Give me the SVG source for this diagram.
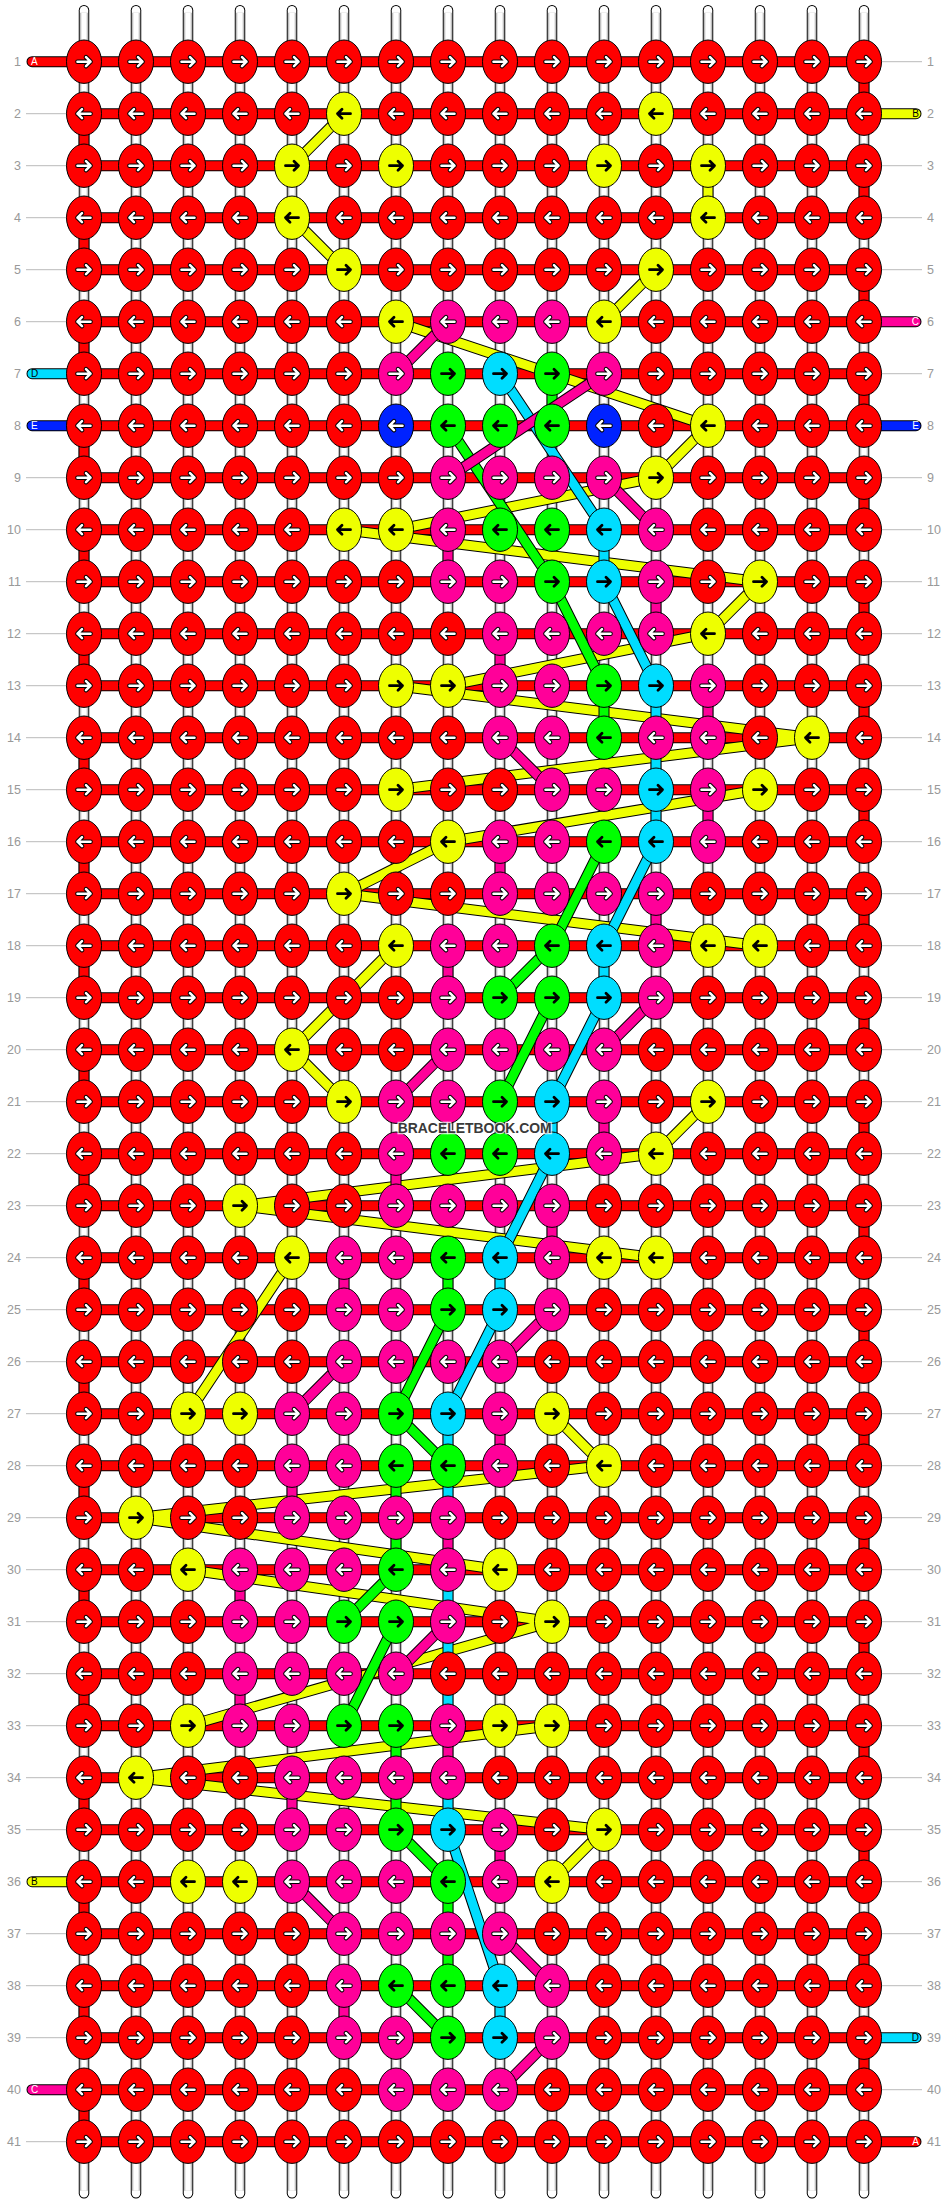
<svg xmlns="http://www.w3.org/2000/svg" xmlns:xlink="http://www.w3.org/1999/xlink" width="948" height="2204" viewBox="0 0 948 2204">
<defs>
<style>
.o{fill:none;stroke:#000;stroke-width:11}
.f{fill:none;stroke-width:9}
.rc{stroke-linecap:round}
.k{stroke:#000;stroke-width:1}
.ao{fill:none;stroke:#000;stroke-width:4.6;stroke-linecap:round;stroke-linejoin:round}
.aw{fill:none;stroke:#fff;stroke-width:2.6;stroke-linecap:round;stroke-linejoin:round}
.ab{fill:none;stroke:#000;stroke-width:2.8;stroke-linecap:round;stroke-linejoin:round}
.n{font-family:"Liberation Sans",Arial,sans-serif;font-size:12.5px;fill:#999}
.lt{font-family:"Liberation Sans",Arial,sans-serif;font-size:10px}
.gl{fill:none;stroke:#bbb;stroke-width:1}
</style>
<path id="pr" d="M-6.5,0H6.5M2,-4.5L6.5,0L2,4.5"/>
<path id="pl" d="M6.5,0H-6.5M-2,-4.5L-6.5,0L-2,4.5"/>
<g id="Rr"><ellipse class="k" rx="17.5" ry="21.7" fill="#ff0000"/><use href="#pr" class="ao"/><use href="#pr" class="aw"/></g>
<g id="Rl"><ellipse class="k" rx="17.5" ry="21.7" fill="#ff0000"/><use href="#pl" class="ao"/><use href="#pl" class="aw"/></g>
<g id="Pr"><ellipse class="k" rx="17.5" ry="21.7" fill="#ff0099"/><use href="#pr" class="ao"/><use href="#pr" class="aw"/></g>
<g id="Pl"><ellipse class="k" rx="17.5" ry="21.7" fill="#ff0099"/><use href="#pl" class="ao"/><use href="#pl" class="aw"/></g>
<g id="Bl"><ellipse class="k" rx="17.5" ry="21.7" fill="#0022ff"/><use href="#pl" class="ao"/><use href="#pl" class="aw"/></g>
<g id="Yr"><ellipse class="k" rx="17.5" ry="21.7" fill="#eeff00"/><use href="#pr" class="ab"/></g>
<g id="Yl"><ellipse class="k" rx="17.5" ry="21.7" fill="#eeff00"/><use href="#pl" class="ab"/></g>
<g id="Gr"><ellipse class="k" rx="17.5" ry="21.7" fill="#00ff00"/><use href="#pr" class="ab"/></g>
<g id="Gl"><ellipse class="k" rx="17.5" ry="21.7" fill="#00ff00"/><use href="#pl" class="ab"/></g>
<g id="Cr"><ellipse class="k" rx="17.5" ry="21.7" fill="#00ddff"/><use href="#pr" class="ab"/></g>
<g id="Cl"><ellipse class="k" rx="17.5" ry="21.7" fill="#00ddff"/><use href="#pl" class="ab"/></g>
<g id="w"><line y1="10.5" y2="2193.5" stroke="#000" stroke-width="10.5" stroke-linecap="round"/><line y1="10.5" y2="2193.5" stroke="#fff" stroke-width="8.5" stroke-linecap="round"/><line y1="13" y2="2191" stroke="#aaa" stroke-width="7.5"/><line y1="13" y2="2191" stroke="#fff" stroke-width="5.5"/></g>
<path id="dR" d="M84,62H864M84,114H864M84,166H864M84,218H864M84,270H864M84,322H864M84,374H864M84,426H864M84,478H864M84,530H864M84,582H864M84,634H864M84,686H864M84,738H864M84,790H864M84,842H864M84,894H864M84,946H864M84,998H864M84,1050H864M84,1102H864M84,1154H864M84,1206H864M84,1258H864M84,1310H864M84,1362H864M84,1414H864M84,1466H864M84,1518H864M84,1570H864M84,1622H864M84,1674H864M84,1726H864M84,1778H864M84,1830H864M84,1882H864M84,1934H864M84,1986H864M84,2038H864M84,2090H864M84,2142H864
M84,114V166M84,218V270M84,322V374M84,426V478M84,530V582M84,634V686M84,738V790M84,842V894M84,946V998M84,1050V1102M84,1154V1206M84,1258V1310M84,1362V1414M84,1466V1518M84,1570V1622M84,1674V1726M84,1778V1830M84,1882V1934M84,1986V2038M84,2090V2142
M864,62V114M864,166V218M864,270V322M864,374V426M864,478V530M864,582V634M864,686V738M864,790V842M864,894V946M864,998V1050M864,1102V1154M864,1206V1258M864,1310V1362M864,1414V1466M864,1518V1570M864,1622V1674M864,1726V1778M864,1830V1882M864,1934V1986M864,2038V2090
M32,62H84M864,2142H916"/>
<path id="dY" d="M292,166L344,114M708,166V218M292,218L344,270M656,270L604,322M396,322L708,426M708,426L656,478M656,478L396,530M344,530L760,582M760,582L708,634M708,634L448,686M396,686L812,738M812,738L396,790M760,790L448,842M448,842L344,894M344,894L760,946M396,946L292,1050M292,1050L344,1102M708,1102L656,1154M656,1154L240,1206M240,1206L656,1258M292,1258L188,1414M552,1414L604,1466M604,1466L136,1518M136,1518L500,1570M188,1570L552,1622M552,1622L188,1726M552,1726L136,1778M136,1778L604,1830M604,1830L552,1882"/>
<path id="dG" d="M552,374V426M448,426L552,582M552,582L604,686M604,686V738M604,842L552,946M552,946L500,998M552,998L500,1102M448,1258V1310M448,1310L396,1414M396,1414L448,1466M396,1466V1570M396,1570L344,1622M396,1622L344,1726M396,1726V1830M396,1830L448,1882M448,1882V1986M396,1986L448,2038"/>
<path id="dC" d="M500,374L604,530M604,530V582M604,582L656,686M656,686V842M656,842L604,946M604,946V998M604,998L552,1102M552,1102V1154M552,1154L500,1258M500,1258V1310M500,1310L448,1414M448,1414V1518M448,1570V1726M448,1778V1830M448,1830L500,1986M500,1986V2038"/>
<path id="dP" d="M448,322L396,374M604,374L448,478M604,478L656,530M500,738L552,790M656,998L604,1050M448,1050L396,1102M552,1310L500,1362M344,1362L292,1414M448,1622L396,1674M292,1882L344,1934M500,1934L552,1986M552,2038L500,2090M448,530V582M656,582V634M500,634V686M708,686V738M708,790V842M500,842V894M656,894V946M448,946V998M604,1102V1154M396,1154V1206M552,1206V1258M344,1258V1310M500,1414V1466M292,1466V1518M448,1518V1570M240,1570V1622M240,1674V1726M448,1726V1778M292,1778V1830M500,1830V1882M344,1986V2038"/>
<path id="lY" d="M864,114H916M32,1882H84"/>
<path id="lP" d="M864,322H916M32,2090H84"/>
<path id="lC" d="M32,374H84M864,2038H916"/>
<path id="lB" d="M32,426H84M864,426H916"/>
</defs>
<rect width="948" height="2204" fill="#fff"/>
<g transform="translate(0,-0.3)">
<g id="rowlines">
<path class="gl" d="M26,114H84M26,166H84M26,218H84M26,270H84M26,322H84M26,478H84M26,530H84M26,582H84M26,634H84M26,686H84M26,738H84M26,790H84M26,842H84M26,894H84M26,946H84M26,998H84M26,1050H84M26,1102H84M26,1154H84M26,1206H84M26,1258H84M26,1310H84M26,1362H84M26,1414H84M26,1466H84M26,1518H84M26,1570H84M26,1622H84M26,1674H84M26,1726H84M26,1778H84M26,1830H84M26,1934H84M26,1986H84M26,2038H84M26,2142H84"/>
<path class="gl" d="M864,62H922M864,166H922M864,218H922M864,270H922M864,374H922M864,478H922M864,530H922M864,582H922M864,634H922M864,686H922M864,738H922M864,790H922M864,842H922M864,894H922M864,946H922M864,998H922M864,1050H922M864,1102H922M864,1154H922M864,1206H922M864,1258H922M864,1310H922M864,1362H922M864,1414H922M864,1466H922M864,1518H922M864,1570H922M864,1622H922M864,1674H922M864,1726H922M864,1778H922M864,1830H922M864,1882H922M864,1934H922M864,1986H922M864,2090H922"/>
</g>
<g id="connectors">
<use href="#w" x="84"/><use href="#w" x="136"/><use href="#w" x="188"/><use href="#w" x="240"/><use href="#w" x="292"/><use href="#w" x="344"/><use href="#w" x="396"/><use href="#w" x="448"/><use href="#w" x="500"/><use href="#w" x="552"/><use href="#w" x="604"/><use href="#w" x="656"/><use href="#w" x="708"/><use href="#w" x="760"/><use href="#w" x="812"/><use href="#w" x="864"/>
<use href="#dR" class="o rc"/><use href="#dR" class="f rc" stroke="#ff0000"/>
<use href="#lY" class="o rc"/><use href="#lY" class="f rc" stroke="#eeff00"/>
<use href="#lP" class="o rc"/><use href="#lP" class="f rc" stroke="#ff0099"/>
<use href="#lC" class="o rc"/><use href="#lC" class="f rc" stroke="#00ddff"/>
<use href="#lB" class="o rc"/><use href="#lB" class="f rc" stroke="#0022ff"/>
<use href="#dY" class="o"/><use href="#dY" class="f" stroke="#eeff00"/>
<use href="#dG" class="o"/><use href="#dG" class="f" stroke="#00ff00"/>
<use href="#dC" class="o"/><use href="#dC" class="f" stroke="#00ddff"/>
<use href="#dP" class="o"/><use href="#dP" class="f" stroke="#ff0099"/>
</g>
<g id="knots">
<g id="row1" transform="translate(0,62)"><g id="k1-1"><use href="#Rr" x="84"/></g><g id="k1-2"><use href="#Rr" x="136"/></g><g id="k1-3"><use href="#Rr" x="188"/></g><g id="k1-4"><use href="#Rr" x="240"/></g><g id="k1-5"><use href="#Rr" x="292"/></g><g id="k1-6"><use href="#Rr" x="344"/></g><g id="k1-7"><use href="#Rr" x="396"/></g><g id="k1-8"><use href="#Rr" x="448"/></g><g id="k1-9"><use href="#Rr" x="500"/></g><g id="k1-10"><use href="#Rr" x="552"/></g><g id="k1-11"><use href="#Rr" x="604"/></g><g id="k1-12"><use href="#Rr" x="656"/></g><g id="k1-13"><use href="#Rr" x="708"/></g><g id="k1-14"><use href="#Rr" x="760"/></g><g id="k1-15"><use href="#Rr" x="812"/></g><g id="k1-16"><use href="#Rr" x="864"/></g></g>
<g id="row2" transform="translate(0,114)"><g id="k2-1"><use href="#Rl" x="84"/></g><g id="k2-2"><use href="#Rl" x="136"/></g><g id="k2-3"><use href="#Rl" x="188"/></g><g id="k2-4"><use href="#Rl" x="240"/></g><g id="k2-5"><use href="#Rl" x="292"/></g><g id="k2-6"><use href="#Yl" x="344"/></g><g id="k2-7"><use href="#Rl" x="396"/></g><g id="k2-8"><use href="#Rl" x="448"/></g><g id="k2-9"><use href="#Rl" x="500"/></g><g id="k2-10"><use href="#Rl" x="552"/></g><g id="k2-11"><use href="#Rl" x="604"/></g><g id="k2-12"><use href="#Yl" x="656"/></g><g id="k2-13"><use href="#Rl" x="708"/></g><g id="k2-14"><use href="#Rl" x="760"/></g><g id="k2-15"><use href="#Rl" x="812"/></g><g id="k2-16"><use href="#Rl" x="864"/></g></g>
<g id="row3" transform="translate(0,166)"><g id="k3-1"><use href="#Rr" x="84"/></g><g id="k3-2"><use href="#Rr" x="136"/></g><g id="k3-3"><use href="#Rr" x="188"/></g><g id="k3-4"><use href="#Rr" x="240"/></g><g id="k3-5"><use href="#Yr" x="292"/></g><g id="k3-6"><use href="#Rr" x="344"/></g><g id="k3-7"><use href="#Yr" x="396"/></g><g id="k3-8"><use href="#Rr" x="448"/></g><g id="k3-9"><use href="#Rr" x="500"/></g><g id="k3-10"><use href="#Rr" x="552"/></g><g id="k3-11"><use href="#Yr" x="604"/></g><g id="k3-12"><use href="#Rr" x="656"/></g><g id="k3-13"><use href="#Yr" x="708"/></g><g id="k3-14"><use href="#Rr" x="760"/></g><g id="k3-15"><use href="#Rr" x="812"/></g><g id="k3-16"><use href="#Rr" x="864"/></g></g>
<g id="row4" transform="translate(0,218)"><g id="k4-1"><use href="#Rl" x="84"/></g><g id="k4-2"><use href="#Rl" x="136"/></g><g id="k4-3"><use href="#Rl" x="188"/></g><g id="k4-4"><use href="#Rl" x="240"/></g><g id="k4-5"><use href="#Yl" x="292"/></g><g id="k4-6"><use href="#Rl" x="344"/></g><g id="k4-7"><use href="#Rl" x="396"/></g><g id="k4-8"><use href="#Rl" x="448"/></g><g id="k4-9"><use href="#Rl" x="500"/></g><g id="k4-10"><use href="#Rl" x="552"/></g><g id="k4-11"><use href="#Rl" x="604"/></g><g id="k4-12"><use href="#Rl" x="656"/></g><g id="k4-13"><use href="#Yl" x="708"/></g><g id="k4-14"><use href="#Rl" x="760"/></g><g id="k4-15"><use href="#Rl" x="812"/></g><g id="k4-16"><use href="#Rl" x="864"/></g></g>
<g id="row5" transform="translate(0,270)"><g id="k5-1"><use href="#Rr" x="84"/></g><g id="k5-2"><use href="#Rr" x="136"/></g><g id="k5-3"><use href="#Rr" x="188"/></g><g id="k5-4"><use href="#Rr" x="240"/></g><g id="k5-5"><use href="#Rr" x="292"/></g><g id="k5-6"><use href="#Yr" x="344"/></g><g id="k5-7"><use href="#Rr" x="396"/></g><g id="k5-8"><use href="#Rr" x="448"/></g><g id="k5-9"><use href="#Rr" x="500"/></g><g id="k5-10"><use href="#Rr" x="552"/></g><g id="k5-11"><use href="#Rr" x="604"/></g><g id="k5-12"><use href="#Yr" x="656"/></g><g id="k5-13"><use href="#Rr" x="708"/></g><g id="k5-14"><use href="#Rr" x="760"/></g><g id="k5-15"><use href="#Rr" x="812"/></g><g id="k5-16"><use href="#Rr" x="864"/></g></g>
<g id="row6" transform="translate(0,322)"><g id="k6-1"><use href="#Rl" x="84"/></g><g id="k6-2"><use href="#Rl" x="136"/></g><g id="k6-3"><use href="#Rl" x="188"/></g><g id="k6-4"><use href="#Rl" x="240"/></g><g id="k6-5"><use href="#Rl" x="292"/></g><g id="k6-6"><use href="#Rl" x="344"/></g><g id="k6-7"><use href="#Yl" x="396"/></g><g id="k6-8"><use href="#Pl" x="448"/></g><g id="k6-9"><use href="#Pl" x="500"/></g><g id="k6-10"><use href="#Pl" x="552"/></g><g id="k6-11"><use href="#Yl" x="604"/></g><g id="k6-12"><use href="#Rl" x="656"/></g><g id="k6-13"><use href="#Rl" x="708"/></g><g id="k6-14"><use href="#Rl" x="760"/></g><g id="k6-15"><use href="#Rl" x="812"/></g><g id="k6-16"><use href="#Rl" x="864"/></g></g>
<g id="row7" transform="translate(0,374)"><g id="k7-1"><use href="#Rr" x="84"/></g><g id="k7-2"><use href="#Rr" x="136"/></g><g id="k7-3"><use href="#Rr" x="188"/></g><g id="k7-4"><use href="#Rr" x="240"/></g><g id="k7-5"><use href="#Rr" x="292"/></g><g id="k7-6"><use href="#Rr" x="344"/></g><g id="k7-7"><use href="#Pr" x="396"/></g><g id="k7-8"><use href="#Gr" x="448"/></g><g id="k7-9"><use href="#Cr" x="500"/></g><g id="k7-10"><use href="#Gr" x="552"/></g><g id="k7-11"><use href="#Pr" x="604"/></g><g id="k7-12"><use href="#Rr" x="656"/></g><g id="k7-13"><use href="#Rr" x="708"/></g><g id="k7-14"><use href="#Rr" x="760"/></g><g id="k7-15"><use href="#Rr" x="812"/></g><g id="k7-16"><use href="#Rr" x="864"/></g></g>
<g id="row8" transform="translate(0,426)"><g id="k8-1"><use href="#Rl" x="84"/></g><g id="k8-2"><use href="#Rl" x="136"/></g><g id="k8-3"><use href="#Rl" x="188"/></g><g id="k8-4"><use href="#Rl" x="240"/></g><g id="k8-5"><use href="#Rl" x="292"/></g><g id="k8-6"><use href="#Rl" x="344"/></g><g id="k8-7"><use href="#Bl" x="396"/></g><g id="k8-8"><use href="#Gl" x="448"/></g><g id="k8-9"><use href="#Gl" x="500"/></g><g id="k8-10"><use href="#Gl" x="552"/></g><g id="k8-11"><use href="#Bl" x="604"/></g><g id="k8-12"><use href="#Rl" x="656"/></g><g id="k8-13"><use href="#Yl" x="708"/></g><g id="k8-14"><use href="#Rl" x="760"/></g><g id="k8-15"><use href="#Rl" x="812"/></g><g id="k8-16"><use href="#Rl" x="864"/></g></g>
<g id="row9" transform="translate(0,478)"><g id="k9-1"><use href="#Rr" x="84"/></g><g id="k9-2"><use href="#Rr" x="136"/></g><g id="k9-3"><use href="#Rr" x="188"/></g><g id="k9-4"><use href="#Rr" x="240"/></g><g id="k9-5"><use href="#Rr" x="292"/></g><g id="k9-6"><use href="#Rr" x="344"/></g><g id="k9-7"><use href="#Rr" x="396"/></g><g id="k9-8"><use href="#Pr" x="448"/></g><g id="k9-9"><use href="#Pr" x="500"/></g><g id="k9-10"><use href="#Pr" x="552"/></g><g id="k9-11"><use href="#Pr" x="604"/></g><g id="k9-12"><use href="#Yr" x="656"/></g><g id="k9-13"><use href="#Rr" x="708"/></g><g id="k9-14"><use href="#Rr" x="760"/></g><g id="k9-15"><use href="#Rr" x="812"/></g><g id="k9-16"><use href="#Rr" x="864"/></g></g>
<g id="row10" transform="translate(0,530)"><g id="k10-1"><use href="#Rl" x="84"/></g><g id="k10-2"><use href="#Rl" x="136"/></g><g id="k10-3"><use href="#Rl" x="188"/></g><g id="k10-4"><use href="#Rl" x="240"/></g><g id="k10-5"><use href="#Rl" x="292"/></g><g id="k10-6"><use href="#Yl" x="344"/></g><g id="k10-7"><use href="#Yl" x="396"/></g><g id="k10-8"><use href="#Pl" x="448"/></g><g id="k10-9"><use href="#Gl" x="500"/></g><g id="k10-10"><use href="#Gl" x="552"/></g><g id="k10-11"><use href="#Cl" x="604"/></g><g id="k10-12"><use href="#Pl" x="656"/></g><g id="k10-13"><use href="#Rl" x="708"/></g><g id="k10-14"><use href="#Rl" x="760"/></g><g id="k10-15"><use href="#Rl" x="812"/></g><g id="k10-16"><use href="#Rl" x="864"/></g></g>
<g id="row11" transform="translate(0,582)"><g id="k11-1"><use href="#Rr" x="84"/></g><g id="k11-2"><use href="#Rr" x="136"/></g><g id="k11-3"><use href="#Rr" x="188"/></g><g id="k11-4"><use href="#Rr" x="240"/></g><g id="k11-5"><use href="#Rr" x="292"/></g><g id="k11-6"><use href="#Rr" x="344"/></g><g id="k11-7"><use href="#Rr" x="396"/></g><g id="k11-8"><use href="#Pr" x="448"/></g><g id="k11-9"><use href="#Pr" x="500"/></g><g id="k11-10"><use href="#Gr" x="552"/></g><g id="k11-11"><use href="#Cr" x="604"/></g><g id="k11-12"><use href="#Pr" x="656"/></g><g id="k11-13"><use href="#Rr" x="708"/></g><g id="k11-14"><use href="#Yr" x="760"/></g><g id="k11-15"><use href="#Rr" x="812"/></g><g id="k11-16"><use href="#Rr" x="864"/></g></g>
<g id="row12" transform="translate(0,634)"><g id="k12-1"><use href="#Rl" x="84"/></g><g id="k12-2"><use href="#Rl" x="136"/></g><g id="k12-3"><use href="#Rl" x="188"/></g><g id="k12-4"><use href="#Rl" x="240"/></g><g id="k12-5"><use href="#Rl" x="292"/></g><g id="k12-6"><use href="#Rl" x="344"/></g><g id="k12-7"><use href="#Rl" x="396"/></g><g id="k12-8"><use href="#Rl" x="448"/></g><g id="k12-9"><use href="#Pl" x="500"/></g><g id="k12-10"><use href="#Pl" x="552"/></g><g id="k12-11"><use href="#Pl" x="604"/></g><g id="k12-12"><use href="#Pl" x="656"/></g><g id="k12-13"><use href="#Yl" x="708"/></g><g id="k12-14"><use href="#Rl" x="760"/></g><g id="k12-15"><use href="#Rl" x="812"/></g><g id="k12-16"><use href="#Rl" x="864"/></g></g>
<g id="row13" transform="translate(0,686)"><g id="k13-1"><use href="#Rr" x="84"/></g><g id="k13-2"><use href="#Rr" x="136"/></g><g id="k13-3"><use href="#Rr" x="188"/></g><g id="k13-4"><use href="#Rr" x="240"/></g><g id="k13-5"><use href="#Rr" x="292"/></g><g id="k13-6"><use href="#Rr" x="344"/></g><g id="k13-7"><use href="#Yr" x="396"/></g><g id="k13-8"><use href="#Yr" x="448"/></g><g id="k13-9"><use href="#Pr" x="500"/></g><g id="k13-10"><use href="#Pr" x="552"/></g><g id="k13-11"><use href="#Gr" x="604"/></g><g id="k13-12"><use href="#Cr" x="656"/></g><g id="k13-13"><use href="#Pr" x="708"/></g><g id="k13-14"><use href="#Rr" x="760"/></g><g id="k13-15"><use href="#Rr" x="812"/></g><g id="k13-16"><use href="#Rr" x="864"/></g></g>
<g id="row14" transform="translate(0,738)"><g id="k14-1"><use href="#Rl" x="84"/></g><g id="k14-2"><use href="#Rl" x="136"/></g><g id="k14-3"><use href="#Rl" x="188"/></g><g id="k14-4"><use href="#Rl" x="240"/></g><g id="k14-5"><use href="#Rl" x="292"/></g><g id="k14-6"><use href="#Rl" x="344"/></g><g id="k14-7"><use href="#Rl" x="396"/></g><g id="k14-8"><use href="#Rl" x="448"/></g><g id="k14-9"><use href="#Pl" x="500"/></g><g id="k14-10"><use href="#Pl" x="552"/></g><g id="k14-11"><use href="#Gl" x="604"/></g><g id="k14-12"><use href="#Pl" x="656"/></g><g id="k14-13"><use href="#Pl" x="708"/></g><g id="k14-14"><use href="#Rl" x="760"/></g><g id="k14-15"><use href="#Yl" x="812"/></g><g id="k14-16"><use href="#Rl" x="864"/></g></g>
<g id="row15" transform="translate(0,790)"><g id="k15-1"><use href="#Rr" x="84"/></g><g id="k15-2"><use href="#Rr" x="136"/></g><g id="k15-3"><use href="#Rr" x="188"/></g><g id="k15-4"><use href="#Rr" x="240"/></g><g id="k15-5"><use href="#Rr" x="292"/></g><g id="k15-6"><use href="#Rr" x="344"/></g><g id="k15-7"><use href="#Yr" x="396"/></g><g id="k15-8"><use href="#Rr" x="448"/></g><g id="k15-9"><use href="#Rr" x="500"/></g><g id="k15-10"><use href="#Pr" x="552"/></g><g id="k15-11"><use href="#Pr" x="604"/></g><g id="k15-12"><use href="#Cr" x="656"/></g><g id="k15-13"><use href="#Pr" x="708"/></g><g id="k15-14"><use href="#Yr" x="760"/></g><g id="k15-15"><use href="#Rr" x="812"/></g><g id="k15-16"><use href="#Rr" x="864"/></g></g>
<g id="row16" transform="translate(0,842)"><g id="k16-1"><use href="#Rl" x="84"/></g><g id="k16-2"><use href="#Rl" x="136"/></g><g id="k16-3"><use href="#Rl" x="188"/></g><g id="k16-4"><use href="#Rl" x="240"/></g><g id="k16-5"><use href="#Rl" x="292"/></g><g id="k16-6"><use href="#Rl" x="344"/></g><g id="k16-7"><use href="#Rl" x="396"/></g><g id="k16-8"><use href="#Yl" x="448"/></g><g id="k16-9"><use href="#Pl" x="500"/></g><g id="k16-10"><use href="#Pl" x="552"/></g><g id="k16-11"><use href="#Gl" x="604"/></g><g id="k16-12"><use href="#Cl" x="656"/></g><g id="k16-13"><use href="#Pl" x="708"/></g><g id="k16-14"><use href="#Rl" x="760"/></g><g id="k16-15"><use href="#Rl" x="812"/></g><g id="k16-16"><use href="#Rl" x="864"/></g></g>
<g id="row17" transform="translate(0,894)"><g id="k17-1"><use href="#Rr" x="84"/></g><g id="k17-2"><use href="#Rr" x="136"/></g><g id="k17-3"><use href="#Rr" x="188"/></g><g id="k17-4"><use href="#Rr" x="240"/></g><g id="k17-5"><use href="#Rr" x="292"/></g><g id="k17-6"><use href="#Yr" x="344"/></g><g id="k17-7"><use href="#Rr" x="396"/></g><g id="k17-8"><use href="#Rr" x="448"/></g><g id="k17-9"><use href="#Pr" x="500"/></g><g id="k17-10"><use href="#Pr" x="552"/></g><g id="k17-11"><use href="#Pr" x="604"/></g><g id="k17-12"><use href="#Pr" x="656"/></g><g id="k17-13"><use href="#Rr" x="708"/></g><g id="k17-14"><use href="#Rr" x="760"/></g><g id="k17-15"><use href="#Rr" x="812"/></g><g id="k17-16"><use href="#Rr" x="864"/></g></g>
<g id="row18" transform="translate(0,946)"><g id="k18-1"><use href="#Rl" x="84"/></g><g id="k18-2"><use href="#Rl" x="136"/></g><g id="k18-3"><use href="#Rl" x="188"/></g><g id="k18-4"><use href="#Rl" x="240"/></g><g id="k18-5"><use href="#Rl" x="292"/></g><g id="k18-6"><use href="#Rl" x="344"/></g><g id="k18-7"><use href="#Yl" x="396"/></g><g id="k18-8"><use href="#Pl" x="448"/></g><g id="k18-9"><use href="#Pl" x="500"/></g><g id="k18-10"><use href="#Gl" x="552"/></g><g id="k18-11"><use href="#Cl" x="604"/></g><g id="k18-12"><use href="#Pl" x="656"/></g><g id="k18-13"><use href="#Yl" x="708"/></g><g id="k18-14"><use href="#Yl" x="760"/></g><g id="k18-15"><use href="#Rl" x="812"/></g><g id="k18-16"><use href="#Rl" x="864"/></g></g>
<g id="row19" transform="translate(0,998)"><g id="k19-1"><use href="#Rr" x="84"/></g><g id="k19-2"><use href="#Rr" x="136"/></g><g id="k19-3"><use href="#Rr" x="188"/></g><g id="k19-4"><use href="#Rr" x="240"/></g><g id="k19-5"><use href="#Rr" x="292"/></g><g id="k19-6"><use href="#Rr" x="344"/></g><g id="k19-7"><use href="#Rr" x="396"/></g><g id="k19-8"><use href="#Pr" x="448"/></g><g id="k19-9"><use href="#Gr" x="500"/></g><g id="k19-10"><use href="#Gr" x="552"/></g><g id="k19-11"><use href="#Cr" x="604"/></g><g id="k19-12"><use href="#Pr" x="656"/></g><g id="k19-13"><use href="#Rr" x="708"/></g><g id="k19-14"><use href="#Rr" x="760"/></g><g id="k19-15"><use href="#Rr" x="812"/></g><g id="k19-16"><use href="#Rr" x="864"/></g></g>
<g id="row20" transform="translate(0,1050)"><g id="k20-1"><use href="#Rl" x="84"/></g><g id="k20-2"><use href="#Rl" x="136"/></g><g id="k20-3"><use href="#Rl" x="188"/></g><g id="k20-4"><use href="#Rl" x="240"/></g><g id="k20-5"><use href="#Yl" x="292"/></g><g id="k20-6"><use href="#Rl" x="344"/></g><g id="k20-7"><use href="#Rl" x="396"/></g><g id="k20-8"><use href="#Pl" x="448"/></g><g id="k20-9"><use href="#Pl" x="500"/></g><g id="k20-10"><use href="#Pl" x="552"/></g><g id="k20-11"><use href="#Pl" x="604"/></g><g id="k20-12"><use href="#Rl" x="656"/></g><g id="k20-13"><use href="#Rl" x="708"/></g><g id="k20-14"><use href="#Rl" x="760"/></g><g id="k20-15"><use href="#Rl" x="812"/></g><g id="k20-16"><use href="#Rl" x="864"/></g></g>
<g id="row21" transform="translate(0,1102)"><g id="k21-1"><use href="#Rr" x="84"/></g><g id="k21-2"><use href="#Rr" x="136"/></g><g id="k21-3"><use href="#Rr" x="188"/></g><g id="k21-4"><use href="#Rr" x="240"/></g><g id="k21-5"><use href="#Rr" x="292"/></g><g id="k21-6"><use href="#Yr" x="344"/></g><g id="k21-7"><use href="#Pr" x="396"/></g><g id="k21-8"><use href="#Pr" x="448"/></g><g id="k21-9"><use href="#Gr" x="500"/></g><g id="k21-10"><use href="#Cr" x="552"/></g><g id="k21-11"><use href="#Pr" x="604"/></g><g id="k21-12"><use href="#Rr" x="656"/></g><g id="k21-13"><use href="#Yr" x="708"/></g><g id="k21-14"><use href="#Rr" x="760"/></g><g id="k21-15"><use href="#Rr" x="812"/></g><g id="k21-16"><use href="#Rr" x="864"/></g></g>
<g id="row22" transform="translate(0,1154)"><g id="k22-1"><use href="#Rl" x="84"/></g><g id="k22-2"><use href="#Rl" x="136"/></g><g id="k22-3"><use href="#Rl" x="188"/></g><g id="k22-4"><use href="#Rl" x="240"/></g><g id="k22-5"><use href="#Rl" x="292"/></g><g id="k22-6"><use href="#Rl" x="344"/></g><g id="k22-7"><use href="#Pl" x="396"/></g><g id="k22-8"><use href="#Gl" x="448"/></g><g id="k22-9"><use href="#Gl" x="500"/></g><g id="k22-10"><use href="#Cl" x="552"/></g><g id="k22-11"><use href="#Pl" x="604"/></g><g id="k22-12"><use href="#Yl" x="656"/></g><g id="k22-13"><use href="#Rl" x="708"/></g><g id="k22-14"><use href="#Rl" x="760"/></g><g id="k22-15"><use href="#Rl" x="812"/></g><g id="k22-16"><use href="#Rl" x="864"/></g></g>
<g id="row23" transform="translate(0,1206)"><g id="k23-1"><use href="#Rr" x="84"/></g><g id="k23-2"><use href="#Rr" x="136"/></g><g id="k23-3"><use href="#Rr" x="188"/></g><g id="k23-4"><use href="#Yr" x="240"/></g><g id="k23-5"><use href="#Rr" x="292"/></g><g id="k23-6"><use href="#Rr" x="344"/></g><g id="k23-7"><use href="#Pr" x="396"/></g><g id="k23-8"><use href="#Pr" x="448"/></g><g id="k23-9"><use href="#Pr" x="500"/></g><g id="k23-10"><use href="#Pr" x="552"/></g><g id="k23-11"><use href="#Rr" x="604"/></g><g id="k23-12"><use href="#Rr" x="656"/></g><g id="k23-13"><use href="#Rr" x="708"/></g><g id="k23-14"><use href="#Rr" x="760"/></g><g id="k23-15"><use href="#Rr" x="812"/></g><g id="k23-16"><use href="#Rr" x="864"/></g></g>
<g id="row24" transform="translate(0,1258)"><g id="k24-1"><use href="#Rl" x="84"/></g><g id="k24-2"><use href="#Rl" x="136"/></g><g id="k24-3"><use href="#Rl" x="188"/></g><g id="k24-4"><use href="#Rl" x="240"/></g><g id="k24-5"><use href="#Yl" x="292"/></g><g id="k24-6"><use href="#Pl" x="344"/></g><g id="k24-7"><use href="#Pl" x="396"/></g><g id="k24-8"><use href="#Gl" x="448"/></g><g id="k24-9"><use href="#Cl" x="500"/></g><g id="k24-10"><use href="#Pl" x="552"/></g><g id="k24-11"><use href="#Yl" x="604"/></g><g id="k24-12"><use href="#Yl" x="656"/></g><g id="k24-13"><use href="#Rl" x="708"/></g><g id="k24-14"><use href="#Rl" x="760"/></g><g id="k24-15"><use href="#Rl" x="812"/></g><g id="k24-16"><use href="#Rl" x="864"/></g></g>
<g id="row25" transform="translate(0,1310)"><g id="k25-1"><use href="#Rr" x="84"/></g><g id="k25-2"><use href="#Rr" x="136"/></g><g id="k25-3"><use href="#Rr" x="188"/></g><g id="k25-4"><use href="#Rr" x="240"/></g><g id="k25-5"><use href="#Rr" x="292"/></g><g id="k25-6"><use href="#Pr" x="344"/></g><g id="k25-7"><use href="#Pr" x="396"/></g><g id="k25-8"><use href="#Gr" x="448"/></g><g id="k25-9"><use href="#Cr" x="500"/></g><g id="k25-10"><use href="#Pr" x="552"/></g><g id="k25-11"><use href="#Rr" x="604"/></g><g id="k25-12"><use href="#Rr" x="656"/></g><g id="k25-13"><use href="#Rr" x="708"/></g><g id="k25-14"><use href="#Rr" x="760"/></g><g id="k25-15"><use href="#Rr" x="812"/></g><g id="k25-16"><use href="#Rr" x="864"/></g></g>
<g id="row26" transform="translate(0,1362)"><g id="k26-1"><use href="#Rl" x="84"/></g><g id="k26-2"><use href="#Rl" x="136"/></g><g id="k26-3"><use href="#Rl" x="188"/></g><g id="k26-4"><use href="#Rl" x="240"/></g><g id="k26-5"><use href="#Rl" x="292"/></g><g id="k26-6"><use href="#Pl" x="344"/></g><g id="k26-7"><use href="#Pl" x="396"/></g><g id="k26-8"><use href="#Pl" x="448"/></g><g id="k26-9"><use href="#Pl" x="500"/></g><g id="k26-10"><use href="#Rl" x="552"/></g><g id="k26-11"><use href="#Rl" x="604"/></g><g id="k26-12"><use href="#Rl" x="656"/></g><g id="k26-13"><use href="#Rl" x="708"/></g><g id="k26-14"><use href="#Rl" x="760"/></g><g id="k26-15"><use href="#Rl" x="812"/></g><g id="k26-16"><use href="#Rl" x="864"/></g></g>
<g id="row27" transform="translate(0,1414)"><g id="k27-1"><use href="#Rr" x="84"/></g><g id="k27-2"><use href="#Rr" x="136"/></g><g id="k27-3"><use href="#Yr" x="188"/></g><g id="k27-4"><use href="#Yr" x="240"/></g><g id="k27-5"><use href="#Pr" x="292"/></g><g id="k27-6"><use href="#Pr" x="344"/></g><g id="k27-7"><use href="#Gr" x="396"/></g><g id="k27-8"><use href="#Cr" x="448"/></g><g id="k27-9"><use href="#Pr" x="500"/></g><g id="k27-10"><use href="#Yr" x="552"/></g><g id="k27-11"><use href="#Rr" x="604"/></g><g id="k27-12"><use href="#Rr" x="656"/></g><g id="k27-13"><use href="#Rr" x="708"/></g><g id="k27-14"><use href="#Rr" x="760"/></g><g id="k27-15"><use href="#Rr" x="812"/></g><g id="k27-16"><use href="#Rr" x="864"/></g></g>
<g id="row28" transform="translate(0,1466)"><g id="k28-1"><use href="#Rl" x="84"/></g><g id="k28-2"><use href="#Rl" x="136"/></g><g id="k28-3"><use href="#Rl" x="188"/></g><g id="k28-4"><use href="#Rl" x="240"/></g><g id="k28-5"><use href="#Pl" x="292"/></g><g id="k28-6"><use href="#Pl" x="344"/></g><g id="k28-7"><use href="#Gl" x="396"/></g><g id="k28-8"><use href="#Gl" x="448"/></g><g id="k28-9"><use href="#Pl" x="500"/></g><g id="k28-10"><use href="#Rl" x="552"/></g><g id="k28-11"><use href="#Yl" x="604"/></g><g id="k28-12"><use href="#Rl" x="656"/></g><g id="k28-13"><use href="#Rl" x="708"/></g><g id="k28-14"><use href="#Rl" x="760"/></g><g id="k28-15"><use href="#Rl" x="812"/></g><g id="k28-16"><use href="#Rl" x="864"/></g></g>
<g id="row29" transform="translate(0,1518)"><g id="k29-1"><use href="#Rr" x="84"/></g><g id="k29-2"><use href="#Yr" x="136"/></g><g id="k29-3"><use href="#Rr" x="188"/></g><g id="k29-4"><use href="#Rr" x="240"/></g><g id="k29-5"><use href="#Pr" x="292"/></g><g id="k29-6"><use href="#Pr" x="344"/></g><g id="k29-7"><use href="#Pr" x="396"/></g><g id="k29-8"><use href="#Pr" x="448"/></g><g id="k29-9"><use href="#Rr" x="500"/></g><g id="k29-10"><use href="#Rr" x="552"/></g><g id="k29-11"><use href="#Rr" x="604"/></g><g id="k29-12"><use href="#Rr" x="656"/></g><g id="k29-13"><use href="#Rr" x="708"/></g><g id="k29-14"><use href="#Rr" x="760"/></g><g id="k29-15"><use href="#Rr" x="812"/></g><g id="k29-16"><use href="#Rr" x="864"/></g></g>
<g id="row30" transform="translate(0,1570)"><g id="k30-1"><use href="#Rl" x="84"/></g><g id="k30-2"><use href="#Rl" x="136"/></g><g id="k30-3"><use href="#Yl" x="188"/></g><g id="k30-4"><use href="#Pl" x="240"/></g><g id="k30-5"><use href="#Pl" x="292"/></g><g id="k30-6"><use href="#Pl" x="344"/></g><g id="k30-7"><use href="#Gl" x="396"/></g><g id="k30-8"><use href="#Pl" x="448"/></g><g id="k30-9"><use href="#Yl" x="500"/></g><g id="k30-10"><use href="#Rl" x="552"/></g><g id="k30-11"><use href="#Rl" x="604"/></g><g id="k30-12"><use href="#Rl" x="656"/></g><g id="k30-13"><use href="#Rl" x="708"/></g><g id="k30-14"><use href="#Rl" x="760"/></g><g id="k30-15"><use href="#Rl" x="812"/></g><g id="k30-16"><use href="#Rl" x="864"/></g></g>
<g id="row31" transform="translate(0,1622)"><g id="k31-1"><use href="#Rr" x="84"/></g><g id="k31-2"><use href="#Rr" x="136"/></g><g id="k31-3"><use href="#Rr" x="188"/></g><g id="k31-4"><use href="#Pr" x="240"/></g><g id="k31-5"><use href="#Pr" x="292"/></g><g id="k31-6"><use href="#Gr" x="344"/></g><g id="k31-7"><use href="#Gr" x="396"/></g><g id="k31-8"><use href="#Pr" x="448"/></g><g id="k31-9"><use href="#Rr" x="500"/></g><g id="k31-10"><use href="#Yr" x="552"/></g><g id="k31-11"><use href="#Rr" x="604"/></g><g id="k31-12"><use href="#Rr" x="656"/></g><g id="k31-13"><use href="#Rr" x="708"/></g><g id="k31-14"><use href="#Rr" x="760"/></g><g id="k31-15"><use href="#Rr" x="812"/></g><g id="k31-16"><use href="#Rr" x="864"/></g></g>
<g id="row32" transform="translate(0,1674)"><g id="k32-1"><use href="#Rl" x="84"/></g><g id="k32-2"><use href="#Rl" x="136"/></g><g id="k32-3"><use href="#Rl" x="188"/></g><g id="k32-4"><use href="#Pl" x="240"/></g><g id="k32-5"><use href="#Pl" x="292"/></g><g id="k32-6"><use href="#Pl" x="344"/></g><g id="k32-7"><use href="#Pl" x="396"/></g><g id="k32-8"><use href="#Rl" x="448"/></g><g id="k32-9"><use href="#Rl" x="500"/></g><g id="k32-10"><use href="#Rl" x="552"/></g><g id="k32-11"><use href="#Rl" x="604"/></g><g id="k32-12"><use href="#Rl" x="656"/></g><g id="k32-13"><use href="#Rl" x="708"/></g><g id="k32-14"><use href="#Rl" x="760"/></g><g id="k32-15"><use href="#Rl" x="812"/></g><g id="k32-16"><use href="#Rl" x="864"/></g></g>
<g id="row33" transform="translate(0,1726)"><g id="k33-1"><use href="#Rr" x="84"/></g><g id="k33-2"><use href="#Rr" x="136"/></g><g id="k33-3"><use href="#Yr" x="188"/></g><g id="k33-4"><use href="#Pr" x="240"/></g><g id="k33-5"><use href="#Pr" x="292"/></g><g id="k33-6"><use href="#Gr" x="344"/></g><g id="k33-7"><use href="#Gr" x="396"/></g><g id="k33-8"><use href="#Pr" x="448"/></g><g id="k33-9"><use href="#Yr" x="500"/></g><g id="k33-10"><use href="#Yr" x="552"/></g><g id="k33-11"><use href="#Rr" x="604"/></g><g id="k33-12"><use href="#Rr" x="656"/></g><g id="k33-13"><use href="#Rr" x="708"/></g><g id="k33-14"><use href="#Rr" x="760"/></g><g id="k33-15"><use href="#Rr" x="812"/></g><g id="k33-16"><use href="#Rr" x="864"/></g></g>
<g id="row34" transform="translate(0,1778)"><g id="k34-1"><use href="#Rl" x="84"/></g><g id="k34-2"><use href="#Yl" x="136"/></g><g id="k34-3"><use href="#Rl" x="188"/></g><g id="k34-4"><use href="#Rl" x="240"/></g><g id="k34-5"><use href="#Pl" x="292"/></g><g id="k34-6"><use href="#Pl" x="344"/></g><g id="k34-7"><use href="#Pl" x="396"/></g><g id="k34-8"><use href="#Pl" x="448"/></g><g id="k34-9"><use href="#Rl" x="500"/></g><g id="k34-10"><use href="#Rl" x="552"/></g><g id="k34-11"><use href="#Rl" x="604"/></g><g id="k34-12"><use href="#Rl" x="656"/></g><g id="k34-13"><use href="#Rl" x="708"/></g><g id="k34-14"><use href="#Rl" x="760"/></g><g id="k34-15"><use href="#Rl" x="812"/></g><g id="k34-16"><use href="#Rl" x="864"/></g></g>
<g id="row35" transform="translate(0,1830)"><g id="k35-1"><use href="#Rr" x="84"/></g><g id="k35-2"><use href="#Rr" x="136"/></g><g id="k35-3"><use href="#Rr" x="188"/></g><g id="k35-4"><use href="#Rr" x="240"/></g><g id="k35-5"><use href="#Pr" x="292"/></g><g id="k35-6"><use href="#Pr" x="344"/></g><g id="k35-7"><use href="#Gr" x="396"/></g><g id="k35-8"><use href="#Cr" x="448"/></g><g id="k35-9"><use href="#Pr" x="500"/></g><g id="k35-10"><use href="#Rr" x="552"/></g><g id="k35-11"><use href="#Yr" x="604"/></g><g id="k35-12"><use href="#Rr" x="656"/></g><g id="k35-13"><use href="#Rr" x="708"/></g><g id="k35-14"><use href="#Rr" x="760"/></g><g id="k35-15"><use href="#Rr" x="812"/></g><g id="k35-16"><use href="#Rr" x="864"/></g></g>
<g id="row36" transform="translate(0,1882)"><g id="k36-1"><use href="#Rl" x="84"/></g><g id="k36-2"><use href="#Rl" x="136"/></g><g id="k36-3"><use href="#Yl" x="188"/></g><g id="k36-4"><use href="#Yl" x="240"/></g><g id="k36-5"><use href="#Pl" x="292"/></g><g id="k36-6"><use href="#Pl" x="344"/></g><g id="k36-7"><use href="#Pl" x="396"/></g><g id="k36-8"><use href="#Gl" x="448"/></g><g id="k36-9"><use href="#Pl" x="500"/></g><g id="k36-10"><use href="#Yl" x="552"/></g><g id="k36-11"><use href="#Rl" x="604"/></g><g id="k36-12"><use href="#Rl" x="656"/></g><g id="k36-13"><use href="#Rl" x="708"/></g><g id="k36-14"><use href="#Rl" x="760"/></g><g id="k36-15"><use href="#Rl" x="812"/></g><g id="k36-16"><use href="#Rl" x="864"/></g></g>
<g id="row37" transform="translate(0,1934)"><g id="k37-1"><use href="#Rr" x="84"/></g><g id="k37-2"><use href="#Rr" x="136"/></g><g id="k37-3"><use href="#Rr" x="188"/></g><g id="k37-4"><use href="#Rr" x="240"/></g><g id="k37-5"><use href="#Rr" x="292"/></g><g id="k37-6"><use href="#Pr" x="344"/></g><g id="k37-7"><use href="#Pr" x="396"/></g><g id="k37-8"><use href="#Pr" x="448"/></g><g id="k37-9"><use href="#Pr" x="500"/></g><g id="k37-10"><use href="#Rr" x="552"/></g><g id="k37-11"><use href="#Rr" x="604"/></g><g id="k37-12"><use href="#Rr" x="656"/></g><g id="k37-13"><use href="#Rr" x="708"/></g><g id="k37-14"><use href="#Rr" x="760"/></g><g id="k37-15"><use href="#Rr" x="812"/></g><g id="k37-16"><use href="#Rr" x="864"/></g></g>
<g id="row38" transform="translate(0,1986)"><g id="k38-1"><use href="#Rl" x="84"/></g><g id="k38-2"><use href="#Rl" x="136"/></g><g id="k38-3"><use href="#Rl" x="188"/></g><g id="k38-4"><use href="#Rl" x="240"/></g><g id="k38-5"><use href="#Rl" x="292"/></g><g id="k38-6"><use href="#Pl" x="344"/></g><g id="k38-7"><use href="#Gl" x="396"/></g><g id="k38-8"><use href="#Gl" x="448"/></g><g id="k38-9"><use href="#Cl" x="500"/></g><g id="k38-10"><use href="#Pl" x="552"/></g><g id="k38-11"><use href="#Rl" x="604"/></g><g id="k38-12"><use href="#Rl" x="656"/></g><g id="k38-13"><use href="#Rl" x="708"/></g><g id="k38-14"><use href="#Rl" x="760"/></g><g id="k38-15"><use href="#Rl" x="812"/></g><g id="k38-16"><use href="#Rl" x="864"/></g></g>
<g id="row39" transform="translate(0,2038)"><g id="k39-1"><use href="#Rr" x="84"/></g><g id="k39-2"><use href="#Rr" x="136"/></g><g id="k39-3"><use href="#Rr" x="188"/></g><g id="k39-4"><use href="#Rr" x="240"/></g><g id="k39-5"><use href="#Rr" x="292"/></g><g id="k39-6"><use href="#Pr" x="344"/></g><g id="k39-7"><use href="#Pr" x="396"/></g><g id="k39-8"><use href="#Gr" x="448"/></g><g id="k39-9"><use href="#Cr" x="500"/></g><g id="k39-10"><use href="#Pr" x="552"/></g><g id="k39-11"><use href="#Rr" x="604"/></g><g id="k39-12"><use href="#Rr" x="656"/></g><g id="k39-13"><use href="#Rr" x="708"/></g><g id="k39-14"><use href="#Rr" x="760"/></g><g id="k39-15"><use href="#Rr" x="812"/></g><g id="k39-16"><use href="#Rr" x="864"/></g></g>
<g id="row40" transform="translate(0,2090)"><g id="k40-1"><use href="#Rl" x="84"/></g><g id="k40-2"><use href="#Rl" x="136"/></g><g id="k40-3"><use href="#Rl" x="188"/></g><g id="k40-4"><use href="#Rl" x="240"/></g><g id="k40-5"><use href="#Rl" x="292"/></g><g id="k40-6"><use href="#Rl" x="344"/></g><g id="k40-7"><use href="#Pl" x="396"/></g><g id="k40-8"><use href="#Pl" x="448"/></g><g id="k40-9"><use href="#Pl" x="500"/></g><g id="k40-10"><use href="#Rl" x="552"/></g><g id="k40-11"><use href="#Rl" x="604"/></g><g id="k40-12"><use href="#Rl" x="656"/></g><g id="k40-13"><use href="#Rl" x="708"/></g><g id="k40-14"><use href="#Rl" x="760"/></g><g id="k40-15"><use href="#Rl" x="812"/></g><g id="k40-16"><use href="#Rl" x="864"/></g></g>
<g id="row41" transform="translate(0,2142)"><g id="k41-1"><use href="#Rr" x="84"/></g><g id="k41-2"><use href="#Rr" x="136"/></g><g id="k41-3"><use href="#Rr" x="188"/></g><g id="k41-4"><use href="#Rr" x="240"/></g><g id="k41-5"><use href="#Rr" x="292"/></g><g id="k41-6"><use href="#Rr" x="344"/></g><g id="k41-7"><use href="#Rr" x="396"/></g><g id="k41-8"><use href="#Rr" x="448"/></g><g id="k41-9"><use href="#Rr" x="500"/></g><g id="k41-10"><use href="#Rr" x="552"/></g><g id="k41-11"><use href="#Rr" x="604"/></g><g id="k41-12"><use href="#Rr" x="656"/></g><g id="k41-13"><use href="#Rr" x="708"/></g><g id="k41-14"><use href="#Rr" x="760"/></g><g id="k41-15"><use href="#Rr" x="812"/></g><g id="k41-16"><use href="#Rr" x="864"/></g></g>
</g>
<g id="labels">
<text class="lt" x="31" y="65.6" fill="#fff">A</text>
<text class="lt" x="31" y="377.6" fill="#000">D</text>
<text class="lt" x="31" y="429.6" fill="#fff">E</text>
<text class="lt" x="31" y="1885.6" fill="#000">B</text>
<text class="lt" x="31" y="2093.6" fill="#fff">C</text>
<text class="lt" x="919" y="117.6" fill="#000" text-anchor="end">B</text>
<text class="lt" x="919" y="325.6" fill="#fff" text-anchor="end">C</text>
<text class="lt" x="919" y="429.6" fill="#fff" text-anchor="end">E</text>
<text class="lt" x="919" y="2041.6" fill="#000" text-anchor="end">D</text>
<text class="lt" x="919" y="2145.6" fill="#fff" text-anchor="end">A</text>
</g>
<g id="rownumbers-left" class="n" text-anchor="end">
<text x="21" y="66.3">1</text><text x="21" y="118.3">2</text><text x="21" y="170.3">3</text><text x="21" y="222.3">4</text><text x="21" y="274.3">5</text><text x="21" y="326.3">6</text><text x="21" y="378.3">7</text><text x="21" y="430.3">8</text><text x="21" y="482.3">9</text><text x="21" y="534.3">10</text><text x="21" y="586.3">11</text><text x="21" y="638.3">12</text><text x="21" y="690.3">13</text><text x="21" y="742.3">14</text><text x="21" y="794.3">15</text><text x="21" y="846.3">16</text><text x="21" y="898.3">17</text><text x="21" y="950.3">18</text><text x="21" y="1002.3">19</text><text x="21" y="1054.3">20</text><text x="21" y="1106.3">21</text><text x="21" y="1158.3">22</text><text x="21" y="1210.3">23</text><text x="21" y="1262.3">24</text><text x="21" y="1314.3">25</text><text x="21" y="1366.3">26</text><text x="21" y="1418.3">27</text><text x="21" y="1470.3">28</text><text x="21" y="1522.3">29</text><text x="21" y="1574.3">30</text><text x="21" y="1626.3">31</text><text x="21" y="1678.3">32</text><text x="21" y="1730.3">33</text><text x="21" y="1782.3">34</text><text x="21" y="1834.3">35</text><text x="21" y="1886.3">36</text><text x="21" y="1938.3">37</text><text x="21" y="1990.3">38</text><text x="21" y="2042.3">39</text><text x="21" y="2094.3">40</text><text x="21" y="2146.3">41</text>
</g>
<g id="rownumbers-right" class="n">
<text x="927" y="66.3">1</text><text x="927" y="118.3">2</text><text x="927" y="170.3">3</text><text x="927" y="222.3">4</text><text x="927" y="274.3">5</text><text x="927" y="326.3">6</text><text x="927" y="378.3">7</text><text x="927" y="430.3">8</text><text x="927" y="482.3">9</text><text x="927" y="534.3">10</text><text x="927" y="586.3">11</text><text x="927" y="638.3">12</text><text x="927" y="690.3">13</text><text x="927" y="742.3">14</text><text x="927" y="794.3">15</text><text x="927" y="846.3">16</text><text x="927" y="898.3">17</text><text x="927" y="950.3">18</text><text x="927" y="1002.3">19</text><text x="927" y="1054.3">20</text><text x="927" y="1106.3">21</text><text x="927" y="1158.3">22</text><text x="927" y="1210.3">23</text><text x="927" y="1262.3">24</text><text x="927" y="1314.3">25</text><text x="927" y="1366.3">26</text><text x="927" y="1418.3">27</text><text x="927" y="1470.3">28</text><text x="927" y="1522.3">29</text><text x="927" y="1574.3">30</text><text x="927" y="1626.3">31</text><text x="927" y="1678.3">32</text><text x="927" y="1730.3">33</text><text x="927" y="1782.3">34</text><text x="927" y="1834.3">35</text><text x="927" y="1886.3">36</text><text x="927" y="1938.3">37</text><text x="927" y="1990.3">38</text><text x="927" y="2042.3">39</text><text x="927" y="2094.3">40</text><text x="927" y="2146.3">41</text>
</g>
<text id="watermark" x="474.7" y="1133.5" text-anchor="middle" textLength="154" lengthAdjust="spacingAndGlyphs" font-family="'Liberation Sans',Arial,sans-serif" font-weight="bold" font-size="15.5" fill="#3a3a3a" stroke="#fff" stroke-opacity="0.75" stroke-width="2.5" paint-order="stroke">BRACELETBOOK.COM</text>
</g>
</svg>
